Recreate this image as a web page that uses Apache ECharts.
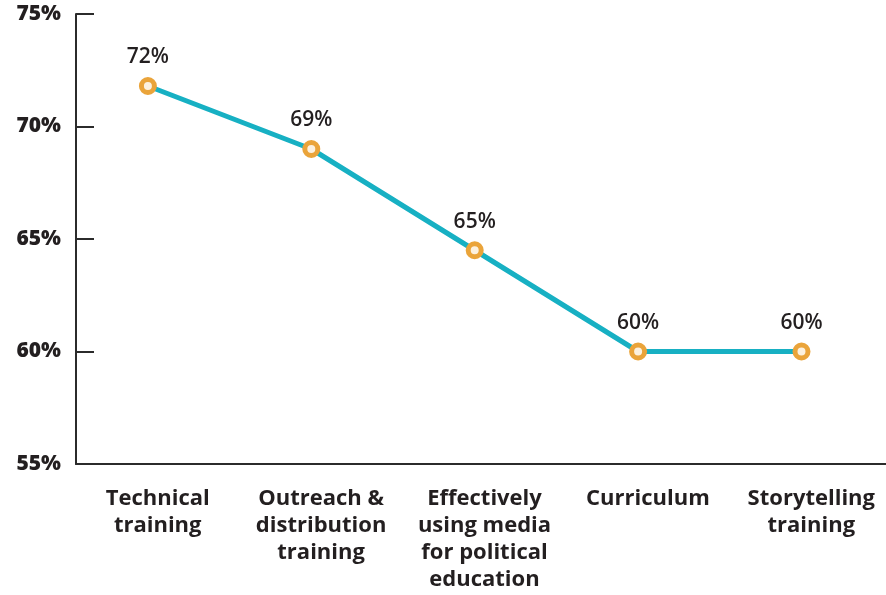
<!DOCTYPE html>
<html>
<head>
<meta charset="utf-8">
<script src="https://cdn.jsdelivr.net/npm/echarts@6/dist/echarts.min.js"></script>
<style>
  html, body { margin: 0; padding: 0; background: #fff; }
  #chart { width: 886px; height: 595px; }
</style>
</head>
<body>
<div id="chart"></div>
<script>
  // categories and values
  var categories = [
    "Technical\ntraining",
    "Outreach &\ndistribution\ntraining",
    "Effectively\nusing media\nfor political\neducation",
    "Curriculum",
    "Storytelling\ntraining"
  ];
  var values = [71.8, 69.0, 64.5, 60.0, 60.0];
  var labels = ["72%", "69%", "65%", "60%", "60%"];

  var chart = echarts.init(document.getElementById("chart"));
  var axisColor = "#2b2b2b";
  var font = "Open Sans";

  chart.setOption({
    animation: false,
    // the plot runs a little past the right edge of the picture
    grid: { left: 76, width: 817, top: 14, bottom: 131, outerBoundsMode: "none", containLabel: false },
    xAxis: [
      {
        type: "category",
        data: categories,
        boundaryGap: true,
        axisLine: { lineStyle: { color: axisColor, width: 2 } },
        axisTick: { inside: true, length: 11, lineStyle: { color: axisColor, width: 2 } },
        axisLabel: {
          interval: 0,
          margin: 21,
          color: "#231f20",
          fontFamily: font,
          fontWeight: "bold",
          fontSize: 22,
          lineHeight: 27
        }
      },
      {
        // hidden axis that places the points, slightly left of the category centres
        type: "value",
        min: -0.44,
        max: 4.56,
        show: false
      }
    ],
    yAxis: {
      type: "value",
      min: 55,
      max: 75,
      interval: 5,
      axisLine: { show: true, onZero: false, lineStyle: { color: axisColor, width: 2 } },
      axisTick: { show: true, inside: true, length: 18, lineStyle: { color: axisColor, width: 2 } },
      splitLine: { show: false },
      axisLabel: {
        formatter: "{value}%",
        margin: 15,
        color: "#231f20",
        fontFamily: font,
        fontWeight: 800,
        fontSize: 21
      }
    },
    series: [
      {
        type: "line",
        xAxisIndex: 1,
        data: values.map(function (v, i) { return [i, v]; }),
        symbol: "circle",
        symbolSize: 13,
        lineStyle: { color: "#17b0c3", width: 5 },
        itemStyle: { color: "#fcf1df", borderColor: "#eaa43a", borderWidth: 5 },
        label: {
          show: true,
          position: "top",
          distance: 9,
          formatter: function (p) { return labels[p.dataIndex]; },
          color: "#231f20",
          fontFamily: font,
          fontWeight: 600,
          fontSize: 21
        },
        z: 3
      }
    ]
  });
</script>
</body>
</html>
